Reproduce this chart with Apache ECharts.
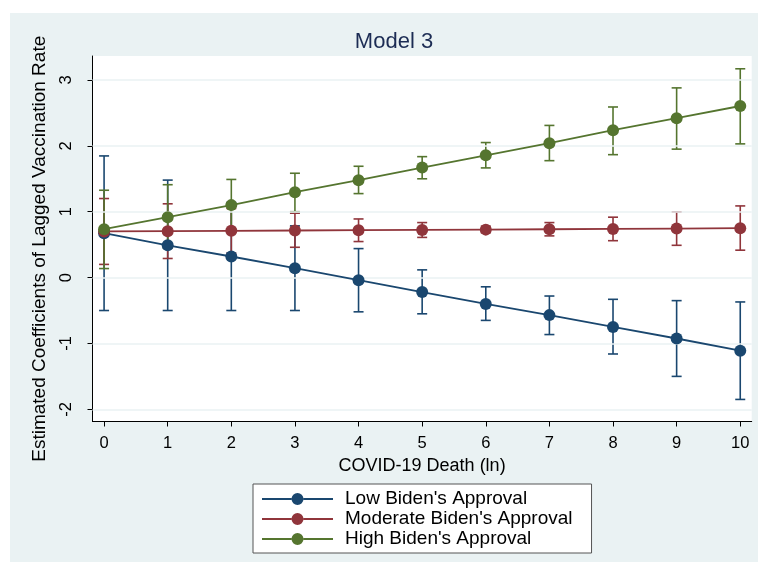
<!DOCTYPE html>
<html>
<head>
<meta charset="utf-8">
<script src="https://cdn.jsdelivr.net/npm/echarts@6/dist/echarts.min.js"></script>
<style>
  html, body { margin: 0; padding: 0; background: #ffffff; }
  #wrap { position: relative; width: 758px; height: 562px; background: #ffffff; }
  #bg { position: absolute; left: 10px; top: 13px; width: 748px; height: 549px; background: #eaf2f3; }
  #chart { position: absolute; left: 0; top: 0; width: 758px; height: 562px; }
</style>
</head>
<body>
<div id="wrap"><div id="bg"></div><div id="chart"></div></div>
<script>
// ---- data ----
const xValues = [0, 1, 2, 3, 4, 5, 6, 7, 8, 9, 10];
const yTicks = [-2, -1, 0, 1, 2, 3];

const lowEst = [0.674, 0.49, 0.32, 0.142, -0.04, -0.22, -0.40, -0.57, -0.75, -0.925, -1.11];
const lowLo  = [-0.50, -0.50, -0.50, -0.50, -0.52, -0.55, -0.65, -0.865, -1.16, -1.50, -1.85];
const lowHi  = [1.847, 1.48, 1.14, 0.785, 0.44, 0.117, -0.14, -0.28, -0.33, -0.35, -0.37];

const modEst = [0.70, 0.705, 0.71, 0.715, 0.72, 0.724, 0.728, 0.734, 0.738, 0.744, 0.75];
const modLo  = [0.20, 0.29, 0.37, 0.46, 0.547, 0.61, 0.68, 0.633, 0.56, 0.49, 0.416];
const modHi  = [1.20, 1.12, 1.05, 0.977, 0.89, 0.835, 0.78, 0.835, 0.917, 0.997, 1.088];

const highEst = [0.734, 0.917, 1.10, 1.296, 1.478, 1.67, 1.857, 2.04, 2.237, 2.42, 2.605];
const highLo  = [0.137, 0.446, 0.71, 1.00, 1.275, 1.50, 1.665, 1.775, 1.866, 1.95, 2.03];
const highHi  = [1.326, 1.41, 1.49, 1.584, 1.69, 1.836, 2.05, 2.31, 2.59, 2.88, 3.17];

const seriesNames = ["Low Biden's Approval", "Moderate Biden's Approval", "High Biden's Approval"];
const colors = ['#1a476f', '#90353b', '#55752f'];

// ---- build ----
const FONT = '"Liberation Sans", Arial, Helvetica, sans-serif';
const ests = [lowEst, modEst, highEst];
const los = [lowLo, modLo, highLo];
const his = [lowHi, modHi, highHi];

// legend icon: line with a dot in the middle (71 x 12 box)
const legendIcon = 'path://M0,5.1 L29.5,5.1 L29.5,6.9 L0,6.9 Z M41.5,5.1 L71,5.1 L71,6.9 L41.5,6.9 Z ' +
  'M35.5,0 A6,6 0 1,1 35.5,12 A6,6 0 1,1 35.5,0 Z';

function capRender(color) {
  return function (params, api) {
    const x = api.value(0);
    const p1 = api.coord([x, api.value(1)]);
    const p2 = api.coord([x, api.value(2)]);
    const hw = 5;
    const style = { stroke: color, lineWidth: 1.6, fill: null };
    return {
      type: 'group',
      children: [
        { type: 'line', shape: { x1: p1[0], y1: p1[1], x2: p2[0], y2: p2[1] }, style: style },
        { type: 'line', shape: { x1: p1[0] - hw, y1: p1[1], x2: p1[0] + hw, y2: p1[1] }, style: style },
        { type: 'line', shape: { x1: p2[0] - hw, y1: p2[1], x2: p2[0] + hw, y2: p2[1] }, style: style }
      ]
    };
  };
}

const series = [];
// gridlines
series.push({
  type: 'line', data: [], silent: true,
  markLine: {
    silent: true, symbol: 'none', label: { show: false },
    lineStyle: { color: '#eaf2f3', width: 1.5, type: 'solid' },
    data: yTicks.map(v => ({ yAxis: v }))
  }
});
for (let s = 0; s < 3; s++) {
  series.push({
    type: 'custom', name: seriesNames[s] + ' CI',
    renderItem: capRender(colors[s]),
    data: xValues.map((x, i) => [x, los[s][i], his[s][i]]),
    encode: { x: 0, y: [1, 2] },
    z: 3
  });
}
for (let s = 0; s < 3; s++) {
  series.push({
    type: 'line', name: seriesNames[s],
    data: xValues.map((x, i) => [x, ests[s][i]]),
    symbol: 'circle', symbolSize: 12,
    itemStyle: { color: colors[s] },
    lineStyle: { color: colors[s], width: 1.8 },
    z: 5
  });
}

const chart = echarts.init(document.getElementById('chart'), null, { renderer: 'canvas' });
chart.setOption({
  backgroundColor: 'transparent',
  animation: false,
  title: {
    text: 'Model 3', left: 389, top: 26, textAlign: 'center',
    textStyle: { fontFamily: FONT, fontSize: 22, fontWeight: 'normal', color: '#1c2c54' }
  },
  grid: {
    left: 92.5, top: 56, width: 659.2, height: 365.5,
    show: true, backgroundColor: '#ffffff', borderWidth: 0
  },
  legend: {
    data: seriesNames.map(n => ({ name: n, icon: legendIcon })),
    orient: 'vertical', left: 253, top: 484,
    padding: [5, 19, 4, 9],
    itemWidth: 71, itemHeight: 12, itemGap: 0,
    backgroundColor: '#ffffff', borderColor: '#555555', borderWidth: 1,
    textStyle: { fontFamily: FONT, fontSize: 19, color: '#000', lineHeight: 20, padding: [0, 0, 0, 7] }
  },
  xAxis: {
    type: 'value', min: -0.182, max: 10.18,
    name: 'COVID-19 Death (ln)', nameLocation: 'middle', nameGap: 36,
    nameTextStyle: { fontFamily: FONT, fontSize: 18, color: '#000' },
    axisLine: { show: true, onZero: false, lineStyle: { color: '#000', width: 1 } },
    axisTick: { show: true, length: 5, customValues: xValues, lineStyle: { color: '#000' } },
    axisLabel: { customValues: xValues, fontFamily: FONT, fontSize: 16.5, color: '#000', margin: 13 },
    splitLine: { show: false }
  },
  yAxis: {
    type: 'value', min: -2.185, max: 3.364,
    name: 'Estimated Coefficients of Lagged Vaccination Rate', nameLocation: 'middle', nameGap: 39,
    nameTextStyle: { fontFamily: FONT, fontSize: 19, color: '#000', padding: [0, 20, 0, 0] },
    axisLine: { show: true, onZero: false, lineStyle: { color: '#000', width: 1 } },
    axisTick: { show: true, length: 5, customValues: yTicks, lineStyle: { color: '#000' } },
    axisLabel: { customValues: yTicks, rotate: 90, fontFamily: FONT, fontSize: 16.5, color: '#000', margin: 18 },
    splitLine: { show: false }
  },
  series: series
});
</script>
</body>
</html>
